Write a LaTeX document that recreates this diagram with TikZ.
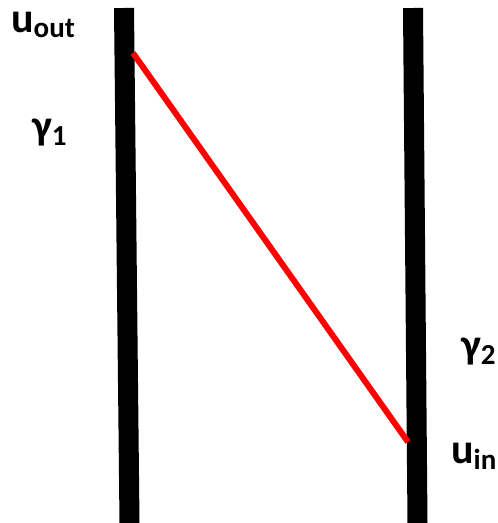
\documentclass[tikz,border=0pt]{standalone}
\usepackage{fontspec}
\setmainfont{Carlito}
\begin{document}
\begin{tikzpicture}[x=1pt,y=-1pt,
  bar/.style={line width=20pt,line cap=butt,black},
  link/.style={line width=6pt,red,line cap=butt},
  lab/.style={anchor=base west,inner sep=0pt,font=\fontsize{42}{42}\selectfont\bfseries},
]
\useasboundingbox (0,0) rectangle (498,523);
\coordinate (l1) at (124,8);
\coordinate (l2) at (129.5,523);
\coordinate (r1) at (413,8);
\coordinate (r2) at (417.5,523);
\draw[bar] (l1) -- (l2);
\draw[bar] (r1) -- (r2);
\coordinate (a) at (133,53);
\coordinate (b) at (408,442);
\draw[link] (a) -- (b);
\newcommand{\sbs}[2]{\raisebox{-#1pt}{\fontsize{29}{29}\selectfont\bfseries #2}}
\node[lab] (uout) at (11,32) {u\sbs{5}{out}};
\node[lab] (g1) at (32,139) {γ\sbs{6}{1}};
\node[lab] (g2) at (461,358) {γ\sbs{6}{2}};
\node[lab] (uin) at (451,463) {u\sbs{6}{in}};
\end{tikzpicture}
\end{document}
